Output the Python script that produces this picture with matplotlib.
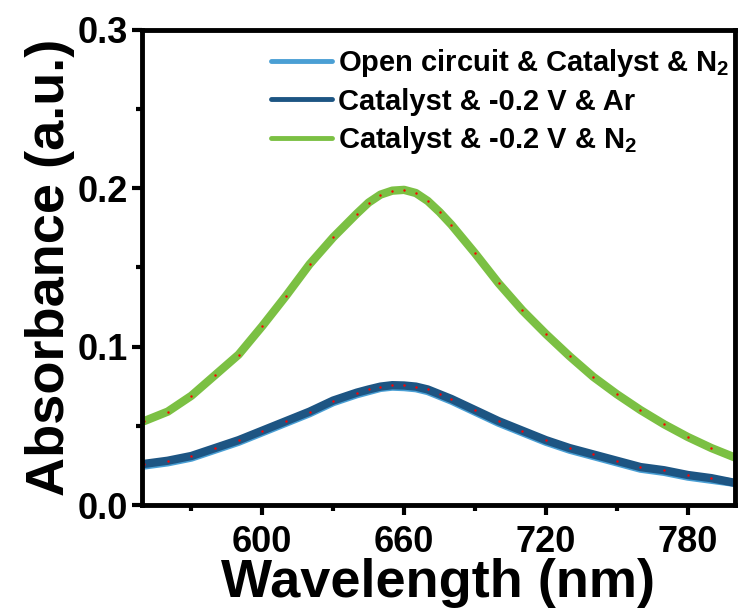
import matplotlib
matplotlib.use("Agg")
import matplotlib.pyplot as plt
from matplotlib.ticker import MultipleLocator
from matplotlib.lines import Line2D

plt.rcParams['font.family'] = 'Liberation Sans'
plt.rcParams['font.weight'] = 'bold'
plt.rcParams['mathtext.fontset'] = 'custom'
plt.rcParams['mathtext.rm'] = 'Liberation Sans:bold'
plt.rcParams['mathtext.bf'] = 'Liberation Sans:bold'
plt.rcParams['mathtext.it'] = 'Liberation Sans:bold'

# wavelength (nm)
wl = [550, 560, 570, 580, 590, 600, 610, 620, 630, 640, 645, 650, 655, 660,
      665, 670, 675, 680, 690, 700, 710, 720, 730, 740, 750, 760, 770, 780,
      790, 800]

# Open circuit & Catalyst & N2
open_n2 = [0.025, 0.027, 0.030, 0.035, 0.040, 0.046, 0.052, 0.058, 0.065, 0.070,
           0.072, 0.074, 0.0748, 0.0745, 0.0738, 0.072, 0.069, 0.066, 0.059, 0.052,
           0.046, 0.040, 0.035, 0.031, 0.027, 0.023, 0.021, 0.018, 0.016, 0.014]
# Catalyst & -0.2 V & Ar
cat_ar = [0.026, 0.028, 0.031, 0.036, 0.041, 0.047, 0.053, 0.059, 0.066, 0.071,
          0.073, 0.0748, 0.0757, 0.0755, 0.0748, 0.073, 0.070, 0.067, 0.060, 0.053,
          0.047, 0.041, 0.036, 0.032, 0.028, 0.024, 0.022, 0.019, 0.017, 0.014]
# Catalyst & -0.2 V & N2
cat_n2 = [0.053, 0.059, 0.069, 0.082, 0.095, 0.113, 0.132, 0.152, 0.169, 0.184,
          0.191, 0.196, 0.1985, 0.199, 0.197, 0.192, 0.185, 0.177, 0.159, 0.140,
          0.123, 0.108, 0.094, 0.081, 0.070, 0.060, 0.051, 0.043, 0.036, 0.030]

labels = ['Open circuit & Catalyst & N$_2$',
          'Catalyst & -0.2 V & Ar',
          'Catalyst & -0.2 V & N$_2$']
colors = ['#4a9fd4', '#1d5583', '#7bc043']

fig = plt.figure(figsize=(7.38, 6.10), dpi=100)
ax = fig.add_axes([0.192, 0.172, 0.804, 0.779])

for y, c in zip([open_n2, cat_ar, cat_n2], colors):
    ax.plot(wl, y, color=c, lw=6, solid_capstyle='round', solid_joinstyle='round')
    ax.plot(wl, y, color='red', lw=0, marker='.', ms=1.5)

ax.set_xlim(549, 800)
ax.set_ylim(0, 0.3)
ax.xaxis.set_major_locator(MultipleLocator(60))
ax.xaxis.set_minor_locator(MultipleLocator(30))
ax.yaxis.set_major_locator(MultipleLocator(0.1))
ax.yaxis.set_minor_locator(MultipleLocator(0.05))
ax.set_xticks([600, 660, 720, 780])
ax.yaxis.set_major_formatter(plt.FuncFormatter(lambda v, p: f'{v:.1f}'))

for s in ax.spines.values():
    s.set_linewidth(3.5)
ax.tick_params(which='major', direction='out', length=7, width=3, labelsize=26, pad=3)
ax.tick_params(axis='x', which='major', pad=7)
ax.tick_params(which='minor', direction='out', length=4, width=3)

ax.set_xlabel('Wavelength (nm)', fontsize=39, fontweight='bold', labelpad=-1)
ax.set_ylabel('Absorbance (a.u.)', fontsize=39, fontweight='bold', labelpad=2)

handles = [Line2D([0], [0], color=c, lw=3.5, solid_capstyle='round') for c in colors]
ax.legend(handles, labels, loc='upper right', frameon=False, fontsize=21,
          handlelength=2.1, handletextpad=0.2, labelspacing=0.28,
          bbox_to_anchor=(1.02, 1.0), borderaxespad=0.2)

fig.savefig('out.png', dpi=100)
